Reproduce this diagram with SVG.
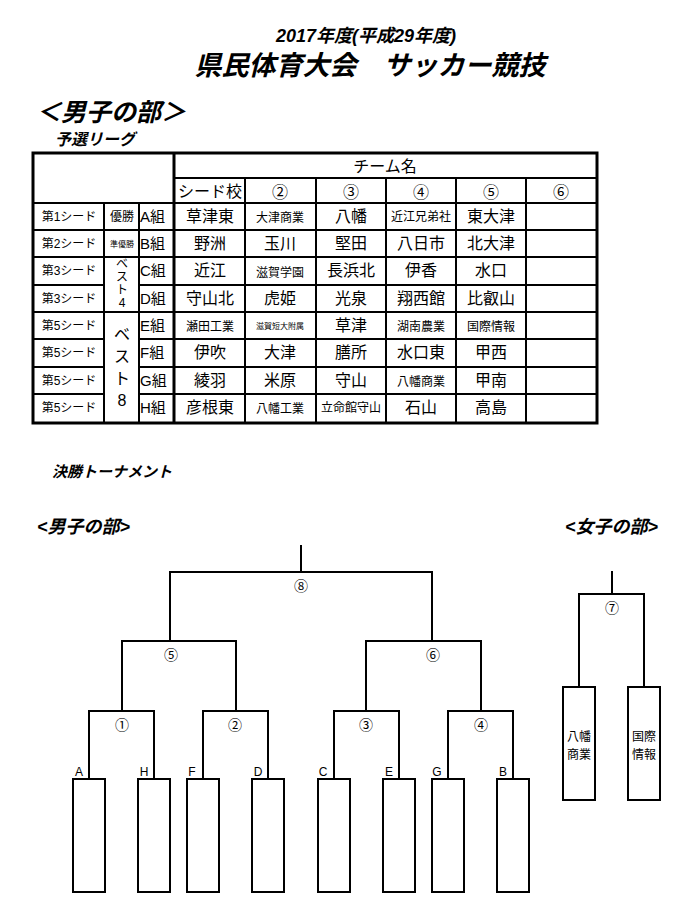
<svg xmlns="http://www.w3.org/2000/svg" width="674" height="911" viewBox="0 0 674 911">
<style>
text{font-family:"Liberation Sans","Noto Sans CJK JP",sans-serif;fill:#000}
.ti{font-weight:bold;font-style:italic}
.c{text-anchor:middle}
.t{font-size:16px;text-anchor:middle}
.s{font-size:12px;text-anchor:middle}
.xs{font-size:8px;text-anchor:middle}
.ln{stroke:#000;stroke-width:2;fill:none}
.th{stroke:#000;stroke-width:3;fill:none}
.bx{fill:#fff;stroke:#000;stroke-width:2}
.m{font-size:12px;text-anchor:middle}
.n{font-size:14px;text-anchor:middle}
</style>
<g id="titles">
<text class="ti c" x="366" y="42" font-size="18">2017年度(平成29年度)</text>
<text class="ti c" x="370" y="75" font-size="27">県民体育大会　サッカー競技</text>
<text class="ti" x="36" y="121" font-size="25">＜男子の部＞</text>
<text class="ti" x="55" y="145" font-size="16">予選リーグ</text>
<text class="ti" x="52" y="477" font-size="15">決勝トーナメント</text>
<text class="ti" x="37" y="533" font-size="18">&lt;男子の部&gt;</text>
<text class="ti" x="565" y="533" font-size="18">&lt;女子の部&gt;</text>
</g>
<g id="table">
<rect x="33" y="153" width="564" height="270" class="th"/>
<g class="ln" stroke-width="1.5">
<line x1="174" y1="178" x2="597" y2="178"/>
<line x1="33" y1="203" x2="597" y2="203"/>
<line x1="33" y1="230" x2="597" y2="230"/>
<line x1="33" y1="257" x2="597" y2="257"/>
<line x1="33" y1="285" x2="104" y2="285"/><line x1="139" y1="285" x2="597" y2="285"/>
<line x1="33" y1="312" x2="597" y2="312"/>
<line x1="33" y1="339" x2="104" y2="339"/><line x1="139" y1="339" x2="597" y2="339"/>
<line x1="33" y1="367" x2="104" y2="367"/><line x1="139" y1="367" x2="597" y2="367"/>
<line x1="33" y1="394" x2="104" y2="394"/><line x1="139" y1="394" x2="597" y2="394"/>
<line x1="104" y1="203" x2="104" y2="423"/>
<line x1="139" y1="203" x2="139" y2="423"/>
<line x1="245" y1="178" x2="245" y2="423"/>
<line x1="316" y1="178" x2="316" y2="423"/>
<line x1="386" y1="178" x2="386" y2="423"/>
<line x1="456" y1="178" x2="456" y2="423"/>
<line x1="526" y1="178" x2="526" y2="423"/>
</g>
<line x1="174" y1="153" x2="174" y2="423" class="th"/>
<text class="t" x="385" y="172" font-size="17">チーム名</text>
<text class="t" x="210" y="197" font-size="17">シード校</text>
<text class="t" x="280" y="198" font-size="19">②</text>
<text class="t" x="351" y="198" font-size="19">③</text>
<text class="t" x="421" y="198" font-size="19">④</text>
<text class="t" x="491" y="198" font-size="19">⑤</text>
<text class="t" x="561" y="198" font-size="19">⑥</text>
<g class="s">
<text x="69" y="221">第1シード</text><text x="69" y="248">第2シード</text><text x="69" y="275">第3シード</text><text x="69" y="303">第3シード</text>
<text x="69" y="330">第5シード</text><text x="69" y="357">第5シード</text><text x="69" y="385">第5シード</text><text x="69" y="412">第5シード</text>
<text x="122" y="221">優勝</text>
</g>
<text class="xs" x="122" y="247">準優勝</text>
<text class="s" x="122" y="268">ベ</text><text class="s" x="122" y="281">ス</text><text class="s" x="122" y="294">ト</text><text class="s" x="122" y="307">4</text>
<text class="t" x="122" y="340" font-size="20">ベ</text><text class="t" x="122" y="362" font-size="20">ス</text><text class="t" x="122" y="384" font-size="20">ト</text><text class="t" x="122" y="406" font-size="20">8</text>
<g font-size="15">
<text x="140" y="222">A組</text><text x="140" y="249">B組</text><text x="140" y="276">C組</text><text x="140" y="304">D組</text>
<text x="140" y="331">E組</text><text x="140" y="358">F組</text><text x="140" y="386">G組</text><text x="140" y="413">H組</text>
</g>
<g class="t" font-size="17">
<text x="210" y="222">草津東</text><text x="351" y="222">八幡</text><text x="491" y="222">東大津</text>
<text x="210" y="249">野洲</text><text x="280" y="249">玉川</text><text x="351" y="249">堅田</text><text x="421" y="249">八日市</text><text x="491" y="249">北大津</text>
<text x="210" y="276">近江</text><text x="351" y="276">長浜北</text><text x="421" y="276">伊香</text><text x="491" y="276">水口</text>
<text x="210" y="304">守山北</text><text x="280" y="304">虎姫</text><text x="351" y="304">光泉</text><text x="421" y="304">翔西館</text><text x="491" y="304">比叡山</text>
<text x="351" y="331">草津</text>
<text x="210" y="358">伊吹</text><text x="280" y="358">大津</text><text x="351" y="358">膳所</text><text x="421" y="358">水口東</text><text x="491" y="358">甲西</text>
<text x="210" y="386">綾羽</text><text x="280" y="386">米原</text><text x="351" y="386">守山</text><text x="491" y="386">甲南</text>
<text x="210" y="413">彦根東</text><text x="421" y="413">石山</text><text x="491" y="413">高島</text>
</g>
<g class="m" font-size="14">
<text x="280" y="222">大津商業</text><text x="280" y="277">滋賀学園</text>
<text x="210" y="331">瀬田工業</text><text x="421" y="331">湖南農業</text><text x="491" y="331">国際情報</text>
<text x="421" y="386">八幡商業</text><text x="280" y="413">八幡工業</text>
</g>
<text class="s" x="421" y="221" font-size="11">近江兄弟社</text>
<text class="s" x="351" y="412" font-size="11">立命館守山</text>
<text class="xs" x="280" y="329" font-size="9">滋賀短大附属</text>
</g>
<g id="connectors" class="ln">
<path d="M301 545V572M170 641V572H432V641"/>
<path d="M89 779V711H154V779M122 711V641H236V711M203 779V711H268V779"/>
<path d="M334 779V711H399V779M366 711V641H481V711M448 779V711H513V779"/>
<path d="M612 571V594M579 687V594H644V687"/>
</g>
<g id="labels">
<g class="n">
<text x="301" y="591">⑧</text><text x="171" y="660">⑤</text><text x="433" y="660">⑥</text>
<text x="122" y="730">①</text><text x="235" y="730">②</text><text x="366" y="730">③</text><text x="481" y="730">④</text>
<text x="612" y="613">⑦</text>
</g>
<g class="m" font-size="13">
<text x="79" y="776">A</text><text x="144" y="776">H</text><text x="192" y="776">F</text><text x="258" y="776">D</text>
<text x="323" y="776">C</text><text x="389" y="776">E</text><text x="437" y="776">G</text><text x="503" y="776">B</text>
</g>
</g>
<g id="boxes">
<rect x="73" y="779" width="32" height="113" class="bx"/>
<rect x="138" y="779" width="32" height="113" class="bx"/>
<rect x="187" y="779" width="32" height="113" class="bx"/>
<rect x="252" y="779" width="32" height="113" class="bx"/>
<rect x="318" y="779" width="32" height="113" class="bx"/>
<rect x="383" y="779" width="32" height="113" class="bx"/>
<rect x="432" y="779" width="32" height="113" class="bx"/>
<rect x="497" y="779" width="32" height="113" class="bx"/>
</g>
<g id="women">
<rect x="563" y="687" width="32" height="113" class="bx"/>
<rect x="628" y="687" width="32" height="113" class="bx"/>
<text class="m" x="579" y="741">八幡</text><text class="m" x="579" y="759">商業</text>
<text class="m" x="644" y="741">国際</text><text class="m" x="644" y="759">情報</text>
</g>
</svg>
